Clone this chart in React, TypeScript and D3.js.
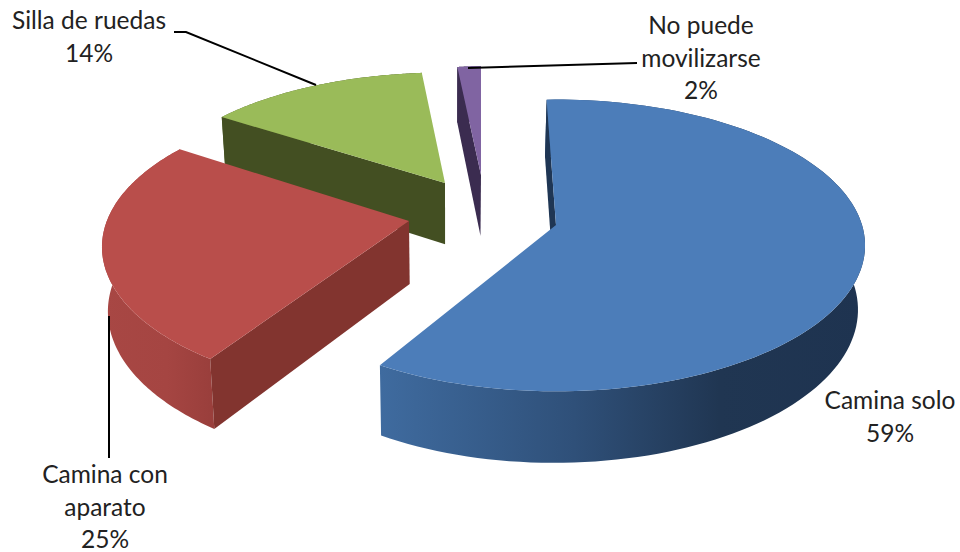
import React from "react";
import * as d3 from "d3";

const categories = ["Camina solo", "Camina con aparato", "Silla de ruedas", "No puede movilizarse"];
const shares = [59, 25, 14, 2];

const topColors = ["#4c7db9", "#b94e4b", "#9abb59", "#8064a2"];
const faceColors = ["#1f3654", "#82342f", "#434f22", "#3b2c50"];
const wallStops = [
  [[0, "#3f6b9f"], [0.4, "#2f5079"], [0.7, "#203652"], [1, "#1e3350"]],
  [[0, "#a84744"], [0.6, "#a54542"], [1, "#9a3f3c"]],
  [[0, "#55642c"], [1, "#434f22"]],
  [[0, "#3b2c50"], [1, "#3b2c50"]],
] as [number, string][][];

// Where each exploded slice sits in the picture
const sliceLayout = [
  { cx: 556, cy: 225, rx: 306, ry: 143, rot: -2, ey: 0 },
  { cx: 409, cy: 221, rx: 304, ry: 144, rot: 3, ey: 5.5 },
  { cx: 445, cy: 183, rx: 292, ry: 126, rot: 2, ey: 0 },
  { cx: 481, cy: 175, rx: 215, ry: 124, rot: 0, ey: 0 },
];
const persp = 0.14;

const labelLines = [
  { lines: ["Camina solo", "59%"], x: 890, y: 409 },
  { lines: ["Camina con", "aparato", "25%"], x: 105, y: 483 },
  { lines: ["Silla de ruedas", "14%"], x: 89, y: 29 },
  { lines: ["No puede", "movilizarse", "2%"], x: 701, y: 34 },
];
const labelStep = 32.5;
const leaders: ([number, number][] | null)[] = [
  null,
  [[109, 316], [109, 458]],
  [[174, 32], [186, 32], [316, 85]],
  [[468, 68], [637, 63]],
];

type P = [number, number];
const drawOrder = [3, 2, 1, 0];

const arcs = d3.pie<number>().sort(null).value((d) => d)(shares);
const toPath = d3.line<P>().x((p) => p[0]).y((p) => p[1]);

const project = (i: number, angle: number, r = 1): P => {
  const l = sliceLayout[i];
  const a = angle + (l.rot * Math.PI) / 180;
  const u = Math.sin(a) * r;
  const v = -Math.cos(a) * r;
  const w = 1 - persp * v;
  return [l.cx + (l.rx * u) / w, l.cy + (l.ry * v) / w + l.ey * r];
};
const drop = ([x, y]: P): P => [x + (450 - x) * 0.017, y + 52 + 0.05 * y];

export default function App() {
  const pieces = drawOrder.map((i) => {
    const { startAngle, endAngle } = arcs[i];
    const steps = d3.range(0, 121).map((k) => startAngle + ((endAngle - startAngle) * k) / 120);
    const rim = steps.map((a) => project(i, a));
    const apex = project(i, 0, 0);
    const top = [apex, ...rim];
    const wall = [...rim, ...rim.map(drop).reverse()];
    const startFace = [apex, rim[0], drop(rim[0]), drop(apex)];
    const xs = rim.map((p) => p[0]);
    return { i, top, wall, startFace, x0: d3.min(xs)!, x1: d3.max(xs)! };
  });

  return (
    <svg
      width={960}
      height={552}
      viewBox="0 0 960 552"
      style={{ position: "absolute", left: 0, top: 0, background: "#fff" }}
    >
      <defs>
        {pieces.map((p) => (
          <linearGradient
            key={p.i}
            id={`wall${p.i}`}
            gradientUnits="userSpaceOnUse"
            x1={p.x0}
            x2={p.x1}
            y1={0}
            y2={0}
          >
            {wallStops[p.i].map(([o, c]) => (
              <stop key={o} offset={o} stopColor={c} />
            ))}
          </linearGradient>
        ))}
      </defs>
      {pieces.map((p) => (
        <g key={p.i}>
          <path d={toPath(p.wall)! + "Z"} fill={`url(#wall${p.i})`} />
          <path d={toPath(p.startFace)! + "Z"} fill={faceColors[p.i]} />
          <path d={toPath(p.top)! + "Z"} fill={topColors[p.i]} />
        </g>
      ))}
      {leaders.map((pts, i) =>
        pts ? <path key={i} d={toPath(pts)!} fill="none" stroke="#000" strokeWidth={2} /> : null
      )}
      {labelLines.map((l, i) => (
        <text
          key={categories[i]}
          textAnchor="middle"
          fontFamily="Lato, sans-serif"
          fontSize={24.5}
          fill="#222"
        >
          {l.lines.map((t, k) => (
            <tspan key={k} x={l.x} y={l.y + k * labelStep}>
              {t}
            </tspan>
          ))}
        </text>
      ))}
    </svg>
  );
}
